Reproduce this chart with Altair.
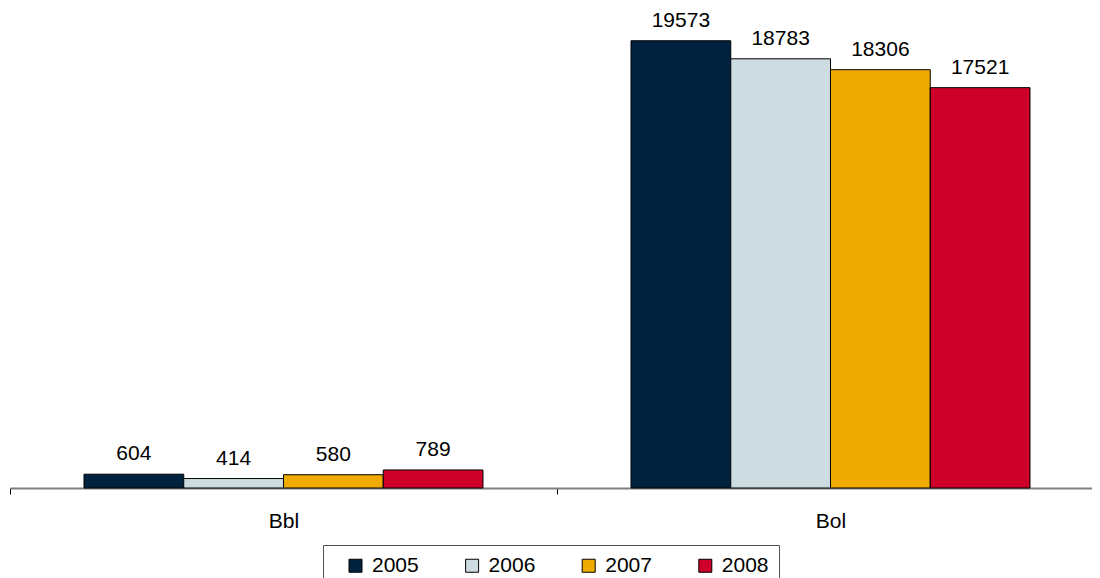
import altair as alt
import pandas as pd

categories = ["Bbl", "Bol"]
years = ["2005", "2006", "2007", "2008"]
bbl_values = [604, 414, 580, 789]
bol_values = [19573, 18783, 18306, 17521]
colors = ["#00223E", "#CCDCE0", "#F0AB00", "#CE0029"]

rows = []
for cat, vals in zip(categories, [bbl_values, bol_values]):
    for yr, v in zip(years, vals):
        rows.append({"category": cat, "year": yr, "value": v})
df = pd.DataFrame(rows)

FONT = "Liberation Sans"
FS = 21

x_enc = alt.X(
    "category:N",
    sort=categories,
    title=None,
    scale=alt.Scale(domain=categories, range=[0, 1094], paddingInner=0, paddingOuter=0),
    axis=alt.Axis(
        labelAngle=0,
        labelFontSize=FS,
        labelFont=FONT,
        labelColor="black",
        labelPadding=16,
        domainColor="#808080",
        domainWidth=2,
        tickColor="black",
        tickSize=6,
        tickWidth=1,
        tickBand="extent",
        grid=False,
    ),
)
xo_enc = alt.XOffset("year:N", sort=years, scale=alt.Scale(paddingInner=0, paddingOuter=0.742))
y_enc = alt.Y("value:Q", scale=alt.Scale(domain=[0, 20000]), axis=None)

bars = alt.Chart(df).mark_bar(stroke="black", strokeWidth=1).encode(
    x=x_enc,
    xOffset=xo_enc,
    y=y_enc,
    color=alt.Color(
        "year:N",
        sort=years,
        scale=alt.Scale(domain=years, range=colors),
        legend=alt.Legend(
            title=None,
            orient="none",
            legendX=313,
            legendY=514,
            direction="horizontal",
            columns=4,
            symbolType="square",
            symbolSize=169,
            symbolStrokeColor="black",
            symbolStrokeWidth=1,
            symbolOffset=12,
            labelOffset=6,
            labelFontSize=FS,
            labelFont=FONT,
            labelColor="black",
            columnPadding=30.6,
            padding=10,
            strokeColor="#505050",
            labelExpr="datum.label == '2008' ? datum.label + '\u00a0\u00a0\u2009' : datum.label",
        ),
    ),
)

labels = alt.Chart(df).mark_text(
    dy=-14, baseline="alphabetic", fontSize=FS, font=FONT, color="black"
).encode(
    x=x_enc,
    xOffset=xo_enc,
    y=y_enc,
    text=alt.Text("value:Q", format="d"),
)

chart = alt.layer(bars, labels).properties(
    width=1082,
    height=457,
    padding={"left": 2, "top": 23, "right": 0, "bottom": 90},
    autosize=alt.AutoSizeParams(type="none"),
    background="white",
).configure_view(stroke=None)

chart.save("out.html", embed_options={"renderer": "svg", "actions": False})
